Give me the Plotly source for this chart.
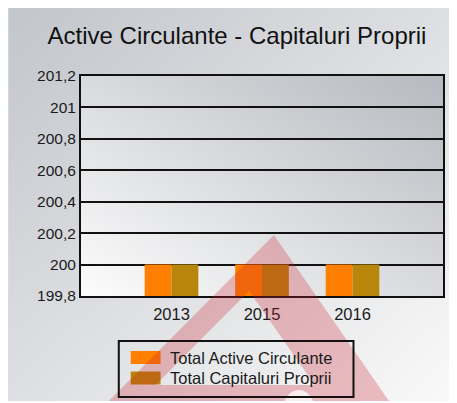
import base64
import plotly.graph_objects as go

# ---- data ----
years = ["2013", "2015", "2016"]
total_active_circulante = [200, 200, 200]
total_capitaluri_proprii = [200, 200, 200]
series_names = ["Total Active Circulante", "Total Capitaluri Proprii"]
series_colors = ["#FF8000", "#B8860B"]
title_text = "Active Circulante - Capitaluri Proprii"
y_range = [199.8, 201.2]
y_step = 0.2

# ---- layout geometry (pixels, page coords; page body has 8px margin) ----
OFF = 8
W, H = 449, 393
L, R, T, B = 73, 12, 68, 105
PW, PH = W - L - R, H - T - B
FONT = "Liberation Sans, Arial, sans-serif"


def px(x):  # page x -> paper x
    return (x - OFF - L) / PW


def py(y):  # page y -> paper y
    return (H - B - (y - OFF)) / PH


def svg_uri(svg):
    return "data:image/svg+xml;base64," + base64.b64encode(svg.encode()).decode()


outer_bg = svg_uri(
    f'<svg xmlns="http://www.w3.org/2000/svg" width="{W}" height="{H}" viewBox="0 0 {W} {H}" preserveAspectRatio="none">'
    '<defs><linearGradient id="g" x1="0" y1="0" x2="1" y2="1">'
    '<stop offset="0" stop-color="#c2c5cb"/><stop offset="1" stop-color="#f9f9f9"/>'
    f'</linearGradient></defs><rect width="{W}" height="{H}" fill="url(#g)"/></svg>'
)
inner_bg = svg_uri(
    f'<svg xmlns="http://www.w3.org/2000/svg" width="{PW}" height="{PH}" viewBox="0 0 {PW} {PH}" preserveAspectRatio="none">'
    '<defs><linearGradient id="g" x1="0" y1="1" x2="1" y2="0">'
    '<stop offset="0" stop-color="#fcfcfc"/><stop offset="1" stop-color="#b6b9bf"/>'
    f'</linearGradient></defs><rect width="{PW}" height="{PH}" fill="url(#g)"/></svg>'
)
watermark = svg_uri(
    f'<svg xmlns="http://www.w3.org/2000/svg" width="{W}" height="{H}" viewBox="0 0 {W} {H}" preserveAspectRatio="none">'
    f'<g transform="translate({-OFF},{-OFF})">'
    '<path fill-rule="evenodd" fill="rgb(205,30,45)" fill-opacity="0.27" '
    'd="M275,235 L90,420 L404,420 Z M250,291 L156,385 L316,385 Z"/>'
    '<ellipse cx="300" cy="414" rx="17" ry="24" fill="#ffffff" fill-opacity="0.75"/>'
    '</g></svg>'
)

fig = go.Figure()
fig.add_trace(go.Bar(x=years, y=total_active_circulante, name=series_names[0],
                     marker=dict(color=series_colors[0], line=dict(width=0))))
fig.add_trace(go.Bar(x=years, y=total_capitaluri_proprii, name=series_names[1],
                     marker=dict(color=series_colors[1], line=dict(width=0))))

images = [
    dict(source=outer_bg, xref="paper", yref="paper", x=-L / PW, y=(H - B) / PH,
         sizex=W / PW, sizey=H / PH, xanchor="left", yanchor="top",
         sizing="stretch", layer="below"),
    dict(source=inner_bg, xref="paper", yref="paper", x=0, y=1, sizex=1, sizey=1,
         xanchor="left", yanchor="top", sizing="stretch", layer="below"),
    dict(source=watermark, xref="paper", yref="paper", x=-L / PW, y=(H - B) / PH,
         sizex=W / PW, sizey=H / PH, xanchor="left", yanchor="top",
         sizing="stretch", layer="above"),
]

# custom legend (box, swatches, labels)
shapes = [dict(type="rect", xref="paper", yref="paper", x0=px(119), x1=px(355),
               y0=py(341), y1=py(397), line=dict(color="#111111", width=2),
               fillcolor="rgba(0,0,0,0)", layer="above")]
annotations = []
row_y = [357.5, 378]
for name, color, yc in zip(series_names, series_colors, row_y):
    shapes.append(dict(type="rect", xref="paper", yref="paper", x0=px(131), x1=px(161),
                       y0=py(yc - 6.5), y1=py(yc + 6.5), line=dict(width=0),
                       fillcolor=color, layer="below"))
    annotations.append(dict(text=name, xref="paper", yref="paper", x=px(168), y=py(yc),
                            xanchor="left", yanchor="middle", showarrow=False,
                            font=dict(family=FONT, size=16.5, color="#1a1a1a")))

fig.update_layout(
    width=W, height=H,
    margin=dict(l=L, r=R, t=T, b=B, pad=0),
    paper_bgcolor="#dcdde0",
    plot_bgcolor="rgba(0,0,0,0)",
    separators=", ",
    barmode="group", bargap=0.407, bargroupgap=0,
    showlegend=False,
    title=dict(text=title_text, x=(237 - OFF) / W, xref="container", xanchor="center",
               y=1 - (36 - OFF) / H, yref="container", yanchor="middle",
               font=dict(family=FONT, size=24, color="#111111")),
    xaxis=dict(type="category", range=[-1, 3], showgrid=False, showline=True,
               linecolor="#111111", linewidth=2, mirror=True, ticks="",
               ticklabelstandoff=2,
               tickfont=dict(family=FONT, size=16.5, color="#1a1a1a")),
    yaxis=dict(range=y_range, dtick=y_step, tick0=y_range[0], showgrid=True,
               gridcolor="#111111", gridwidth=2, showline=True, linecolor="#111111",
               linewidth=2, mirror=True, ticks="", zeroline=False,
               ticklabelstandoff=0,
               tickfont=dict(family=FONT, size=15.5, color="#1a1a1a")),
    images=images, shapes=shapes, annotations=annotations,
    font=dict(family=FONT),
)

fig.write_html("out.html")
